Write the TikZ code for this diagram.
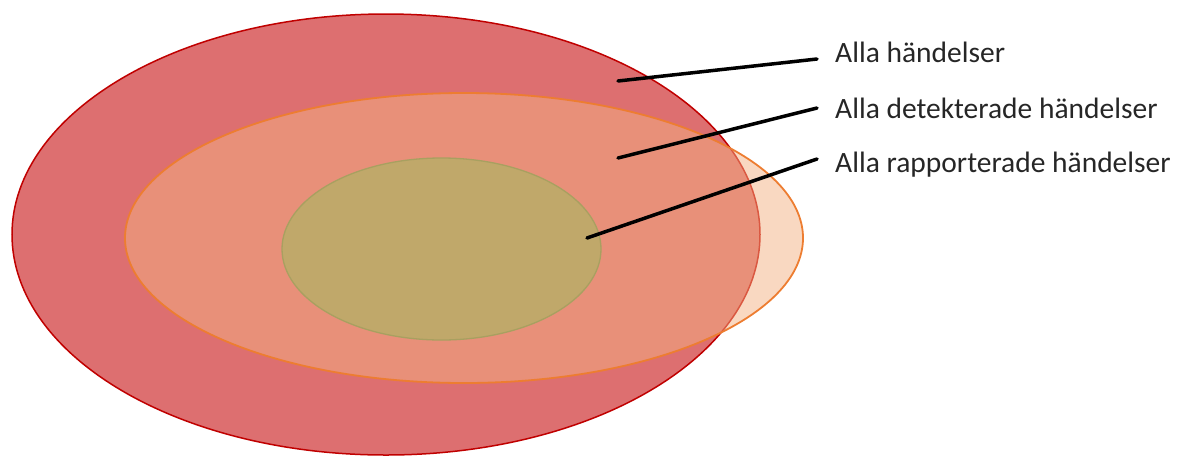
\documentclass[tikz,border=0pt]{standalone}
\usepackage{fontspec}
\setmainfont{Carlito}
\usetikzlibrary{shapes.geometric}
\definecolor{redfill}{RGB}{221,111,112}
\definecolor{redline}{RGB}{192,0,0}
\definecolor{orfill}{RGB}{244,177,131}
\definecolor{orline}{RGB}{237,125,49}
\definecolor{grfill}{RGB}{192,168,106}
\definecolor{grline}{RGB}{168,160,96}
\tikzset{
  blob/.style={ellipse, inner sep=0pt},
  lbl/.style={anchor=base west, inner sep=0pt, font=\fontsize{29.5}{33}\selectfont, text=black!85},
  leader/.style={line width=3.5pt, black, line cap=round}
}
\begin{document}
\begin{tikzpicture}[x=1pt,y=-1pt]
\useasboundingbox (0,0) rectangle (1183,459);
\node[blob, fill=redfill, draw=redline, line width=1.5pt, minimum width=748pt, minimum height=441pt] (all) at (386,234.5) {};
\node[blob, fill=orfill, fill opacity=0.5, draw=orline, line width=1.8pt, minimum width=678pt, minimum height=290pt] (det) at (464,238) {};
\node[blob, fill=grfill, draw=grline, line width=1.3pt, minimum width=319pt, minimum height=182pt] (rap) at (441.5,249) {};
\node[lbl] (t1) at (835,62) {Alla händelser};
\node[lbl] (t2) at (835,118) {Alla detekterade händelser};
\node[lbl] (t3) at (835,172) {Alla rapporterade händelser};
\coordinate (p1) at (618,81);
\coordinate (p2) at (618,158);
\coordinate (p3) at (587,238);
\coordinate (q1) at (817,59);
\coordinate (q2) at (817,108);
\coordinate (q3) at (817,159);
\draw[leader] (p1) -- (q1);
\draw[leader] (p2) -- (q2);
\draw[leader] (p3) -- (q3);
\end{tikzpicture}
\end{document}
